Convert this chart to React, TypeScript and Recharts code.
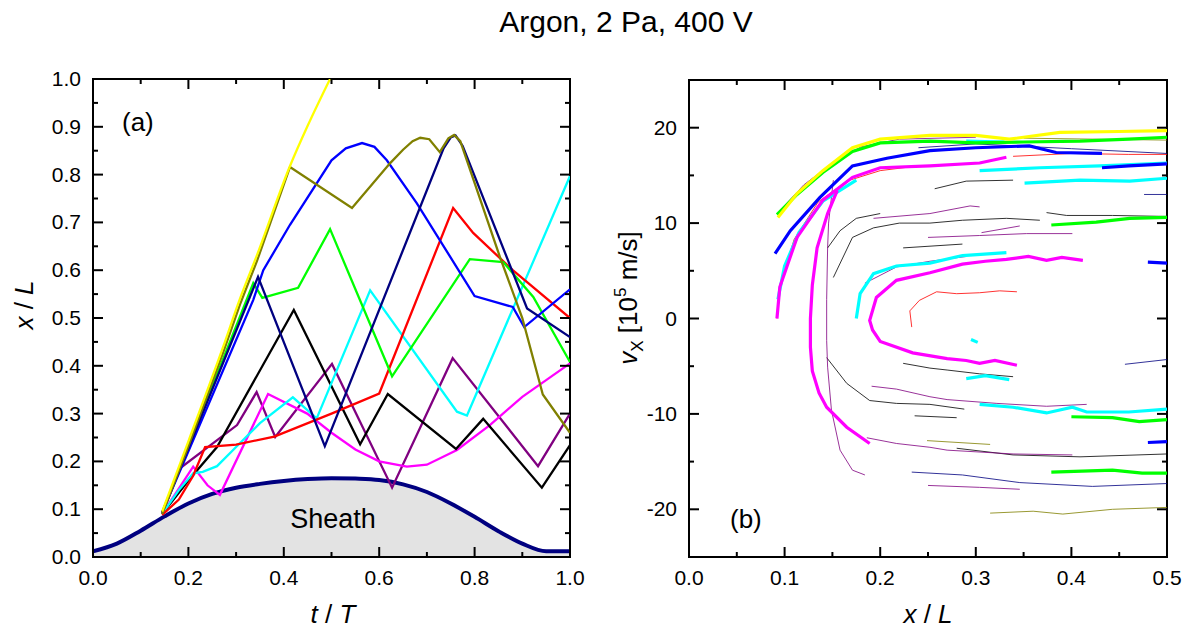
import React from "react";
import { ComposedChart, Line, Area, XAxis, YAxis, ReferenceArea } from "recharts";

type Pt = [number, number];

const FONT = '"Liberation Sans", Arial, Helvetica, sans-serif';

const C = {
  yellow: "#FFFF00",
  olive: "#808000",
  blue: "#0000FF",
  navy: "#000080",
  green: "#00FF00",
  red: "#FF0000",
  cyan: "#00FFFF",
  black: "#000000",
  magenta: "#FF00FF",
  purple: "#800080",
  sheathFill: "#E3E3E3",
};

// ─── panel (a): ion position x/L against time t/T ───
const SHEATH_T = [0, 0.05, 0.1, 0.15, 0.2, 0.25, 0.3, 0.35, 0.4, 0.45, 0.5, 0.55, 0.6, 0.65, 0.7, 0.75, 0.8, 0.85, 0.9, 0.95, 1.0];
const SHEATH_X = [0.012, 0.028, 0.055, 0.085, 0.112, 0.132, 0.145, 0.153, 0.159, 0.163, 0.165, 0.164, 0.161, 0.152, 0.136, 0.112, 0.084, 0.054, 0.028, 0.012, 0.012];

const A_YELLOW: Pt[] = [[0.145, 0.095], [0.2, 0.242], [0.273, 0.44], [0.308, 0.54], [0.344, 0.632], [0.413, 0.818], [0.45, 0.902], [0.497, 1.0]];
const A_OLIVE: Pt[] = [[0.145, 0.09], [0.2, 0.232], [0.273, 0.428], [0.308, 0.528], [0.344, 0.62], [0.413, 0.816], [0.543, 0.73], [0.623, 0.824], [0.65, 0.852], [0.67, 0.87], [0.686, 0.877], [0.705, 0.874], [0.727, 0.847], [0.745, 0.876], [0.757, 0.883], [0.77, 0.87], [0.853, 0.628], [0.9, 0.5], [0.943, 0.34], [1.0, 0.26]];
const A_BLUE: Pt[] = [[0.145, 0.093], [0.336, 0.538], [0.357, 0.6], [0.413, 0.695], [0.5, 0.83], [0.53, 0.855], [0.564, 0.866], [0.59, 0.858], [0.616, 0.83], [0.679, 0.74], [0.8, 0.546], [0.88, 0.523], [0.904, 0.481], [1.0, 0.56]];
const A_NAVY: Pt[] = [[0.145, 0.093], [0.346, 0.586], [0.486, 0.232], [0.735, 0.855], [0.75, 0.878], [0.76, 0.882], [0.775, 0.86], [0.91, 0.52], [1.0, 0.46]];
const A_GREEN: Pt[] = [[0.145, 0.093], [0.336, 0.573], [0.355, 0.542], [0.43, 0.563], [0.497, 0.686], [0.627, 0.378], [0.79, 0.623], [0.86, 0.617], [0.923, 0.544], [1.0, 0.408]];
const A_RED: Pt[] = [[0.145, 0.088], [0.18, 0.12], [0.21, 0.17], [0.235, 0.23], [0.3, 0.235], [0.38, 0.252], [0.5, 0.3], [0.6, 0.342], [0.755, 0.73], [0.797, 0.678], [0.88, 0.6], [1.0, 0.5]];
const A_CYAN: Pt[] = [[0.145, 0.09], [0.18, 0.14], [0.21, 0.175], [0.23, 0.178], [0.26, 0.19], [0.3, 0.23], [0.35, 0.28], [0.419, 0.334], [0.469, 0.29], [0.581, 0.558], [0.763, 0.304], [0.784, 0.296], [1.0, 0.797]];
const A_BLACK: Pt[] = [[0.145, 0.09], [0.2, 0.16], [0.26, 0.23], [0.421, 0.517], [0.56, 0.236], [0.618, 0.341], [0.761, 0.226], [0.818, 0.289], [0.941, 0.145], [1.0, 0.234]];
const A_MAGENTA: Pt[] = [[0.145, 0.09], [0.21, 0.189], [0.24, 0.15], [0.266, 0.13], [0.367, 0.341], [0.449, 0.3], [0.5, 0.26], [0.55, 0.225], [0.6, 0.2], [0.658, 0.189], [0.7, 0.193], [0.763, 0.224], [0.832, 0.276], [0.9, 0.335], [0.95, 0.37], [1.0, 0.405]];
const A_PURPLE: Pt[] = [[0.145, 0.09], [0.183, 0.186], [0.302, 0.276], [0.343, 0.345], [0.382, 0.251], [0.501, 0.404], [0.627, 0.145], [0.754, 0.416], [0.933, 0.19], [1.0, 0.3]];

const A_T_TICKS = [0, 0.1, 0.2, 0.3, 0.4, 0.5, 0.6, 0.7, 0.8, 0.9, 1.0];
const A_X_TICKS = [0, 0.05, 0.1, 0.15, 0.2, 0.25, 0.3, 0.35, 0.4, 0.45, 0.5, 0.55, 0.6, 0.65, 0.7, 0.75, 0.8, 0.85, 0.9, 0.95, 1.0];

// ─── panel (b): phase space v_x against x/L ───
// thick traces
const B_YELLOW: Pt[] = [[0.093, 10.6], [0.113, 13.1], [0.14, 15.5], [0.171, 17.9], [0.2, 18.8], [0.252, 19.2], [0.3, 19.2], [0.335, 18.8], [0.388, 19.5], [0.45, 19.6], [0.5, 19.7]];
const B_GREEN_1: Pt[] = [[0.092, 10.9], [0.113, 13.0], [0.14, 15.3], [0.171, 17.5], [0.2, 18.4], [0.252, 18.6], [0.3, 18.4], [0.35, 18.5], [0.409, 18.6], [0.46, 18.8], [0.5, 19.0]];
const B_GREEN_2: Pt[] = [[0.379, 9.8], [0.426, 10.1], [0.461, 10.5], [0.5, 10.6]];
const B_GREEN_3: Pt[] = [[0.4, -10.3], [0.443, -10.4], [0.471, -10.8], [0.5, -10.6]];
const B_GREEN_4: Pt[] = [[0.379, -16.1], [0.443, -15.9], [0.474, -16.2], [0.5, -16.2]];
const B_BLUE_1: Pt[] = [[0.09, 6.8], [0.106, 9.2], [0.137, 12.7], [0.171, 16.0], [0.207, 16.8], [0.252, 17.6], [0.3, 17.9], [0.356, 18.1], [0.384, 17.4], [0.432, 17.3]];
const B_BLUE_2: Pt[] = [[0.432, 15.8], [0.46, 16.0], [0.5, 16.2]];
const B_BLUE_3: Pt[] = [[0.48, 5.9], [0.5, 5.8]];
const B_BLUE_4: Pt[] = [[0.48, -13.0], [0.5, -12.9]];
const B_CYAN_1: Pt[] = [[0.093, 2.0], [0.1, 5.5], [0.115, 9.0], [0.14, 12.3], [0.175, 14.5]];
const B_CYAN_2: Pt[] = [[0.29, 18.6], [0.33, 18.5]];
const B_CYAN_3: Pt[] = [[0.304, 15.5], [0.367, 15.8], [0.43, 16.0], [0.5, 16.3]];
const B_CYAN_4: Pt[] = [[0.351, 14.2], [0.409, 14.5], [0.461, 14.4], [0.5, 14.7]];
const B_CYAN_5: Pt[] = [[0.175, 0], [0.179, 2.6], [0.193, 4.7], [0.217, 5.5], [0.252, 5.8], [0.286, 6.6], [0.332, 6.9]];
const B_CYAN_6: Pt[] = [[0.295, -2.2], [0.302, -2.5]];
const B_CYAN_7: Pt[] = [[0.29, -6.3], [0.31, -6.0], [0.335, -6.4]];
const B_CYAN_8: Pt[] = [[0.304, -9.0], [0.339, -9.3], [0.374, -9.9], [0.401, -9.3], [0.416, -9.8], [0.46, -9.8], [0.5, -9.5]];
const B_MAGENTA_1: Pt[] = [[0.092, 0], [0.095, 3.3], [0.113, 8.5], [0.14, 12.4], [0.171, 14.8], [0.2, 15.8], [0.252, 16.0], [0.304, 16.3], [0.332, 16.9]];
const B_MAGENTA_2: Pt[] = [[0.155, 13.4], [0.145, 11.0], [0.134, 7.4], [0.129, 3.5], [0.127, 0], [0.127, -3.0], [0.129, -5.5], [0.136, -7.8], [0.144, -9.3], [0.165, -11.4], [0.189, -13.1]];
const B_MAGENTA_3: Pt[] = [[0.412, 6.1], [0.39, 6.4], [0.374, 6.1], [0.355, 6.5], [0.332, 6.2], [0.31, 6.0], [0.286, 5.7], [0.252, 4.8], [0.217, 4.0], [0.196, 2.2], [0.189, -0.2], [0.192, -1.2], [0.2, -2.4], [0.234, -3.6], [0.27, -4.2], [0.29, -4.4], [0.304, -4.7], [0.32, -4.4], [0.343, -4.9]];
// thin traces
const B_RED_1: Pt[] = [[0.092, 0], [0.095, 3.5], [0.11, 8.3], [0.135, 12.2], [0.165, 14.4], [0.2, 15.5], [0.24, 16.0]];
const B_RED_2: Pt[] = [[0.339, 17.0], [0.4, 17.3], [0.46, 17.2], [0.5, 17.2]];
const B_RED_3: Pt[] = [[0.233, -0.9], [0.231, 0.8], [0.241, 1.9], [0.259, 2.8], [0.28, 2.6], [0.304, 2.7], [0.325, 2.9], [0.343, 2.8]];
const B_BLACK_1: Pt[] = [[0.145, 7.4], [0.158, 9.2], [0.175, 10.5], [0.2, 11.0]];
const B_BLACK_2: Pt[] = [[0.151, 4.3], [0.171, 8.5], [0.193, 9.5], [0.22, 10.0], [0.252, 10.0], [0.286, 10.3], [0.332, 10.5], [0.367, 10.3]];
const B_BLACK_3: Pt[] = [[0.257, 13.6], [0.29, 14.4], [0.339, 14.5]];
const B_BLACK_4: Pt[] = [[0.374, 11.1], [0.395, 10.8], [0.443, 10.8], [0.5, 10.7]];
const B_BLACK_5: Pt[] = [[0.224, 7.4], [0.286, 7.8]];
const B_BLACK_6: Pt[] = [[0.144, -4.1], [0.165, -6.8], [0.189, -8.6], [0.217, -8.9], [0.252, -9.0], [0.288, -9.5]];
const B_BLACK_7: Pt[] = [[0.236, -10.2], [0.28, -10.4]];
const B_BLACK_8: Pt[] = [[0.224, -4.7], [0.252, -5.2], [0.27, -5.4], [0.304, -5.8], [0.339, -6.1]];
const B_BLACK_9: Pt[] = [[0.28, -13.6], [0.339, -14.3], [0.409, -14.5], [0.5, -14.2]];
const B_PURPLE_1: Pt[] = [[0.151, 14.5], [0.146, 10.0], [0.145, 7.4], [0.144, 2.0], [0.144, -2.3], [0.145, -5.1], [0.149, -9.6], [0.158, -13.8], [0.171, -15.9], [0.184, -16.4]];
const B_PURPLE_2: Pt[] = [[0.193, 10.5], [0.252, 11.0], [0.294, 11.8], [0.304, 11.7]];
const B_PURPLE_3: Pt[] = [[0.25, 8.5], [0.304, 8.7], [0.353, 8.9], [0.401, 8.9]];
const B_PURPLE_4: Pt[] = [[0.306, 9.0], [0.346, 9.7]];
const B_PURPLE_5: Pt[] = [[0.191, -7.1], [0.217, -7.4], [0.252, -8.2], [0.27, -8.5], [0.322, -8.9], [0.374, -9.2], [0.416, -9.0]];
const B_PURPLE_6: Pt[] = [[0.186, -12.5], [0.217, -13.1], [0.252, -13.5], [0.27, -13.8], [0.339, -14.2], [0.401, -14.3]];
const B_PURPLE_7: Pt[] = [[0.25, -17.5], [0.304, -17.7], [0.346, -17.9]];
const B_PURPLE_8: Pt[] = [[0.095, 11.3], [0.12, 14.0], [0.15, 16.3], [0.18, 18.0], [0.22, 18.8], [0.3, 19.0]];
const B_PURPLE_9: Pt[] = [[0.184, 3.7], [0.217, 5.4], [0.252, 6.0], [0.29, 6.5]];
const B_NAVY_1: Pt[] = [[0.233, -16.1], [0.286, -16.4], [0.346, -17.2], [0.422, -17.6], [0.5, -17.3]];
const B_NAVY_2: Pt[] = [[0.456, -4.8], [0.5, -4.3]];
const B_NAVY_3: Pt[] = [[0.476, 13.0], [0.5, 13.0]];
const B_NAVY_4: Pt[] = [[0.24, 17.9], [0.3, 18.3], [0.4, 17.8], [0.5, 17.3]];
const B_OLIVE_1: Pt[] = [[0.249, -12.8], [0.315, -13.2]];
const B_OLIVE_2: Pt[] = [[0.315, -20.4], [0.36, -20.2], [0.391, -20.5], [0.443, -20.0], [0.5, -19.8]];
const B_OLIVE_3: Pt[] = [[0.35, 18.9], [0.5, 18.7]];

const B_X_TICKS = [0, 0.05, 0.1, 0.15, 0.2, 0.25, 0.3, 0.35, 0.4, 0.45, 0.5];
const B_V_TICKS = [-20, -15, -10, -5, 0, 5, 10, 15, 20];

// plot frames (chart-local pixels)
const A_BOX = { left: 93, right: 570, top: 79, bottom: 557 };
const B_BOX = { left: 89, right: 567, top: 80, bottom: 557 };

const toTX = (arr: Pt[]) => arr.map(([t, x]) => ({ t, x }));
const toXV = (arr: Pt[]) => arr.map(([x, v]) => ({ x, v }));

const sheathData = SHEATH_T.map((t, i) => ({ t, x: SHEATH_X[i] }));

const A_LINES = [
  { pts: A_PURPLE, color: C.purple, curve: "linear" },
  { pts: A_MAGENTA, color: C.magenta, curve: "linear" },
  { pts: A_BLACK, color: C.black, curve: "linear" },
  { pts: A_CYAN, color: C.cyan, curve: "linear" },
  { pts: A_RED, color: C.red, curve: "linear" },
  { pts: A_GREEN, color: C.green, curve: "linear" },
  { pts: A_BLUE, color: C.blue, curve: "linear" },
  { pts: A_NAVY, color: C.navy, curve: "linear" },
  { pts: A_OLIVE, color: C.olive, curve: "linear" },
  { pts: A_YELLOW, color: C.yellow, curve: "monotone" },
];

const B_THIN = [
  { pts: B_RED_1, color: C.red },
  { pts: B_RED_2, color: C.red },
  { pts: B_RED_3, color: C.red },
  { pts: B_BLACK_1, color: C.black },
  { pts: B_BLACK_2, color: C.black },
  { pts: B_BLACK_3, color: C.black },
  { pts: B_BLACK_4, color: C.black },
  { pts: B_BLACK_5, color: C.black },
  { pts: B_BLACK_6, color: C.black },
  { pts: B_BLACK_7, color: C.black },
  { pts: B_BLACK_8, color: C.black },
  { pts: B_BLACK_9, color: C.black },
  { pts: B_PURPLE_1, color: C.purple },
  { pts: B_PURPLE_2, color: C.purple },
  { pts: B_PURPLE_3, color: C.purple },
  { pts: B_PURPLE_4, color: C.purple },
  { pts: B_PURPLE_5, color: C.purple },
  { pts: B_PURPLE_6, color: C.purple },
  { pts: B_PURPLE_7, color: C.purple },
  { pts: B_PURPLE_8, color: C.purple },
  { pts: B_PURPLE_9, color: C.purple },
  { pts: B_NAVY_1, color: C.navy },
  { pts: B_NAVY_2, color: C.navy },
  { pts: B_NAVY_3, color: C.navy },
  { pts: B_NAVY_4, color: C.navy },
  { pts: B_OLIVE_1, color: C.olive },
  { pts: B_OLIVE_2, color: C.olive },
  { pts: B_OLIVE_3, color: C.olive },
];

const B_THICK = [
  { pts: B_CYAN_1, color: C.cyan },
  { pts: B_CYAN_2, color: C.cyan },
  { pts: B_CYAN_3, color: C.cyan },
  { pts: B_CYAN_4, color: C.cyan },
  { pts: B_CYAN_5, color: C.cyan },
  { pts: B_CYAN_6, color: C.cyan },
  { pts: B_CYAN_7, color: C.cyan },
  { pts: B_CYAN_8, color: C.cyan },
  { pts: B_GREEN_1, color: C.green },
  { pts: B_GREEN_2, color: C.green },
  { pts: B_GREEN_3, color: C.green },
  { pts: B_GREEN_4, color: C.green },
  { pts: B_YELLOW, color: C.yellow },
  { pts: B_BLUE_1, color: C.blue },
  { pts: B_BLUE_2, color: C.blue },
  { pts: B_BLUE_3, color: C.blue },
  { pts: B_BLUE_4, color: C.blue },
  { pts: B_MAGENTA_1, color: C.magenta },
  { pts: B_MAGENTA_2, color: C.magenta },
  { pts: B_MAGENTA_3, color: C.magenta },
];

// inward ticks on bottom + mirrored on top
function makeXTick(box: typeof A_BOX, isMajor: (v: number) => boolean, fmt: (v: number) => string) {
  return (p: any) => {
    const v = p.payload.value;
    const major = isMajor(v);
    const len = major ? 10 : 5;
    return (
      <g>
        <line x1={p.x} x2={p.x} y1={box.bottom} y2={box.bottom - len} stroke="#000" strokeWidth={2} />
        <line x1={p.x} x2={p.x} y1={box.top} y2={box.top + len} stroke="#000" strokeWidth={2} />
        {major && (
          <text x={p.x} y={box.bottom + 28} textAnchor="middle" fontSize={21} fontFamily={FONT} fill="#000">
            {fmt(v)}
          </text>
        )}
      </g>
    );
  };
}

// inward ticks on left + mirrored on right
function makeYTick(box: typeof A_BOX, isMajor: (v: number) => boolean, fmt: (v: number) => string) {
  return (p: any) => {
    const v = p.payload.value;
    const major = isMajor(v);
    const len = major ? 10 : 5;
    return (
      <g>
        <line x1={box.left} x2={box.left + len} y1={p.y} y2={p.y} stroke="#000" strokeWidth={2} />
        <line x1={box.right} x2={box.right - len} y1={p.y} y2={p.y} stroke="#000" strokeWidth={2} />
        {major && (
          <text x={box.left - 12} y={p.y + 7} textAnchor="end" fontSize={21} fontFamily={FONT} fill="#000">
            {fmt(v)}
          </text>
        )}
      </g>
    );
  };
}

function PanelA() {
  return (
    <ComposedChart width={600} height={629} margin={{ top: 79, right: 30, bottom: 42, left: 33 }}>
      <XAxis
        type="number"
        dataKey="t"
        domain={[0, 1]}
        ticks={A_T_TICKS}
        interval={0}
        height={30}
        allowDataOverflow
        axisLine={false}
        tickLine={false}
        tick={makeXTick(A_BOX, (v) => Math.round(v * 10) % 2 === 0, (v) => v.toFixed(1))}
      />
      <YAxis
        type="number"
        domain={[0, 1]}
        ticks={A_X_TICKS}
        interval={0}
        width={60}
        allowDataOverflow
        axisLine={false}
        tickLine={false}
        tick={makeYTick(A_BOX, (v) => Math.round(v * 100) % 10 === 0, (v) => v.toFixed(1))}
      />
      <Area
        data={sheathData}
        dataKey="x"
        type="monotone"
        baseValue={0}
        fill={C.sheathFill}
        fillOpacity={1}
        stroke={C.navy}
        strokeWidth={4}
        isAnimationActive={false}
        dot={false}
        activeDot={false}
      />
      {A_LINES.map((s, i) => (
        <Line
          key={i}
          data={toTX(s.pts)}
          dataKey="x"
          type={s.curve as any}
          stroke={s.color}
          strokeWidth={2.3}
          dot={false}
          activeDot={false}
          isAnimationActive={false}
        />
      ))}
      <ReferenceArea x1={0} x2={1} y1={0} y2={1} fill="none" fillOpacity={0} stroke="#000" strokeWidth={2} />
    </ComposedChart>
  );
}

function PanelB() {
  return (
    <ComposedChart width={589} height={629} margin={{ top: 80, right: 22, bottom: 42, left: 29 }}>
      <XAxis
        type="number"
        dataKey="x"
        domain={[0, 0.5]}
        ticks={B_X_TICKS}
        interval={0}
        height={30}
        allowDataOverflow
        axisLine={false}
        tickLine={false}
        tick={makeXTick(B_BOX, (v) => Math.round(v * 100) % 10 === 0, (v) => v.toFixed(1))}
      />
      <YAxis
        type="number"
        domain={[-25, 25]}
        ticks={B_V_TICKS}
        interval={0}
        width={60}
        allowDataOverflow
        axisLine={false}
        tickLine={false}
        tick={makeYTick(B_BOX, (v) => v % 10 === 0, (v) => String(v))}
      />
      {B_THIN.map((s, i) => (
        <Line
          key={"thin" + i}
          data={toXV(s.pts)}
          dataKey="v"
          type="linear"
          stroke={s.color}
          strokeOpacity={0.8}
          strokeWidth={1}
          dot={false}
          activeDot={false}
          isAnimationActive={false}
        />
      ))}
      {B_THICK.map((s, i) => (
        <Line
          key={"thick" + i}
          data={toXV(s.pts)}
          dataKey="v"
          type="linear"
          stroke={s.color}
          strokeWidth={3.2}
          dot={false}
          activeDot={false}
          isAnimationActive={false}
        />
      ))}
      <ReferenceArea x1={0} x2={0.5} y1={-25} y2={25} fill="none" fillOpacity={0} stroke="#000" strokeWidth={2} />
    </ComposedChart>
  );
}

export default function App() {
  return (
    <div style={{ position: "absolute", left: 0, top: 0, width: 1189, height: 629, background: "#fff", overflow: "hidden" }}>
      <div style={{ position: "absolute", left: 0, top: 0 }}>
        <PanelA />
      </div>
      <div style={{ position: "absolute", left: 600, top: 0 }}>
        <PanelB />
      </div>
      <svg width={1189} height={629} style={{ position: "absolute", left: 0, top: 0, pointerEvents: "none" }} fontFamily={FONT} fill="#000">
        <text x={626} y={32} textAnchor="middle" fontSize={30}>Argon, 2 Pa, 400 V</text>
        <text x={122} y={131} fontSize={26}>(a)</text>
        <text x={730} y={528} fontSize={26}>(b)</text>
        <text x={333} y={528} textAnchor="middle" fontSize={27}>Sheath</text>
        <text transform="translate(33,305) rotate(-90)" textAnchor="middle" fontSize={26}>
          <tspan fontStyle="italic">x</tspan> / <tspan fontStyle="italic">L</tspan>
        </text>
        <text x={333} y={623} textAnchor="middle" fontSize={26}>
          <tspan fontStyle="italic">t</tspan> / <tspan fontStyle="italic">T</tspan>
        </text>
        <text x={928} y={623} textAnchor="middle" fontSize={26}>
          <tspan fontStyle="italic">x</tspan> / <tspan fontStyle="italic">L</tspan>
        </text>
        <text transform="translate(637,298) rotate(-90)" textAnchor="middle" fontSize={26}>
          <tspan fontStyle="italic">v</tspan>
          <tspan fontSize={17} dy={6}>X</tspan>
          <tspan dy={-6}> [10</tspan>
          <tspan fontSize={17} dy={-11}>5</tspan>
          <tspan dy={11}> m/s]</tspan>
        </text>
      </svg>
    </div>
  );
}
